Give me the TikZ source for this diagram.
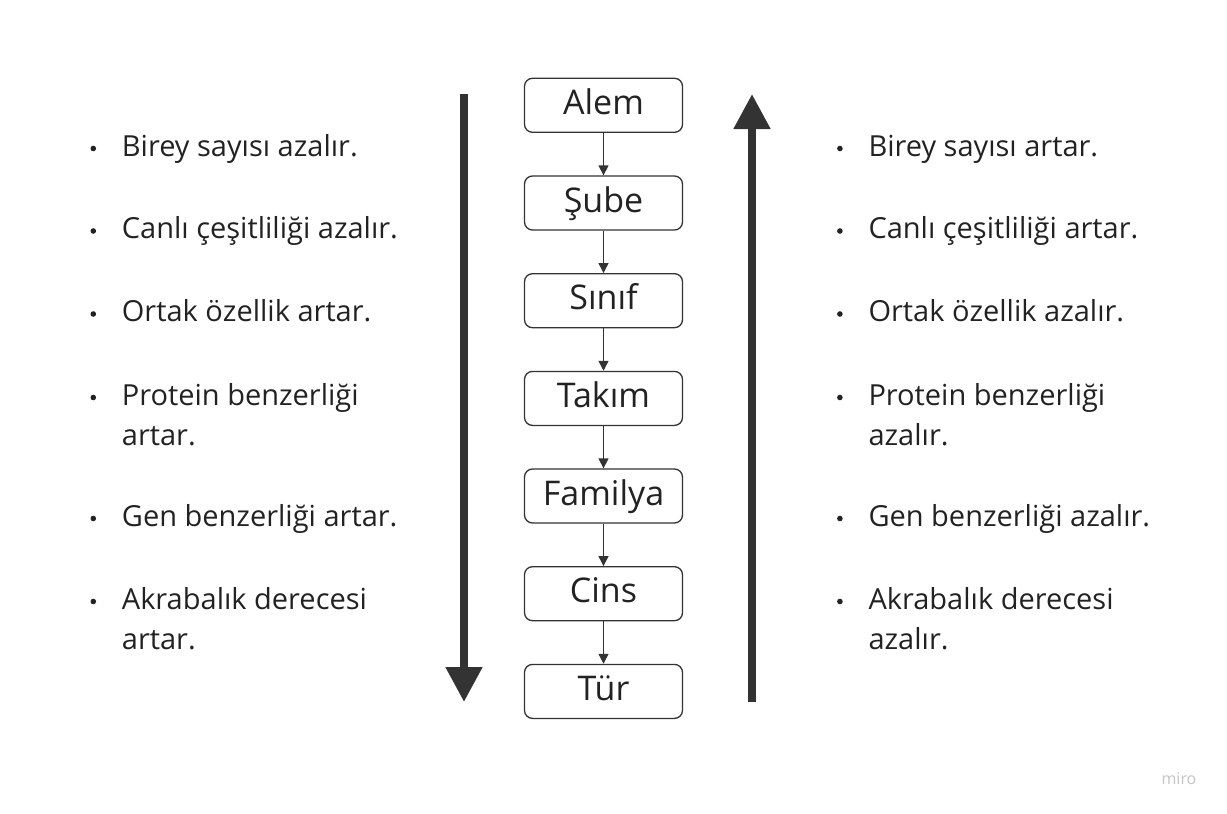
\documentclass[tikz,border=0pt]{standalone}
\usepackage{fontspec}
\setmainfont{Open Sans}
\usetikzlibrary{arrows.meta}
\definecolor{inkgrey}{HTML}{333333}
\definecolor{textgrey}{HTML}{222222}
\definecolor{markgrey}{HTML}{C4C4C4}
\tikzset{
  rank/.style={draw=inkgrey, rounded corners=8pt, line width=1.3pt, minimum width=158pt, minimum height=54pt, inner sep=0pt, text=textgrey, font=\fontsize{34}{40}\selectfont, text height=24pt, text depth=6pt},
  link/.style={draw=inkgrey, line width=1.3pt, -{Triangle[width=10pt,length=10pt]}},
  bigarrow/.style={draw=inkgrey, line width=8pt, -{Triangle[width=35pt,length=35pt]}},
  item/.style={anchor=base west, align=left, inner sep=0pt, text=textgrey, font=\fontsize{29}{40}\selectfont}}

\begin{document}
\begin{tikzpicture}[x=1pt,y=-1pt]
\useasboundingbox (0,0) rectangle (1227,814);
% ranks
\node [rank] (alem) at (603.5,105.3) {Alem};
\node [rank] (sube) at (603.5,203) {Şube};
\node [rank] (sinif) at (603.5,300.7) {Sınıf};
\node [rank] (takim) at (603.5,398.4) {Takım};
\node [rank] (familya) at (603.5,496) {Familya};
\node [rank] (cins) at (603.5,593.7) {Cins};
\node [rank] (tur) at (603.5,691.4) {Tür};
\draw [link] (alem) -- (sube);
\draw [link] (sube) -- (sinif);
\draw [link] (sinif) -- (takim);
\draw [link] (takim) -- (familya);
\draw [link] (familya) -- (cins);
\draw [link] (cins) -- (tur);
% big arrows
\coordinate (downtop) at (464,94);
\coordinate (downtip) at (464,702);
\coordinate (upbottom) at (752,702);
\coordinate (uptip) at (752,94);
\draw [bigarrow] (downtop) -- (downtip);
\draw [bigarrow] (upbottom) -- (uptip);
% left list (two-line items sit on their last line)
\node [item] (lbirey) at (121.7,156) {Birey sayısı azalır.};
\node [item] (lcanli) at (121.7,238.5) {Canlı çeşitliliği azalır.};
\node [item] (lortak) at (121.7,321.5) {Ortak özellik artar.};
\node [item] (lprotein) at (121.7,445) {Protein benzerliği\\artar.};
\node [item] (lgen) at (121.7,526) {Gen benzerliği artar.};
\node [item] (lakraba) at (121.7,649) {Akrabalık derecesi\\artar.};
% right list
\node [item] (rbirey) at (868.3,156) {Birey sayısı artar.};
\node [item] (rcanli) at (868.3,238.5) {Canlı çeşitliliği artar.};
\node [item] (rortak) at (868.3,321.5) {Ortak özellik azalır.};
\node [item] (rprotein) at (868.3,445) {Protein benzerliği\\azalır.};
\node [item] (rgen) at (868.3,526) {Gen benzerliği azalır.};
\node [item] (rakraba) at (868.3,649) {Akrabalık derecesi\\azalır.};
% bullets
\foreach \n in {lbirey,lcanli,lortak,lgen,rbirey,rcanli,rortak,rgen}
  \fill [textgrey] (\n.base west) ++(-28.4,-7.5) circle (2.8);
\foreach \n in {lprotein,lakraba,rprotein,rakraba}
  \fill [textgrey] (\n.base west) ++(-28.4,-47.5) circle (2.8);
\node [text=markgrey, font=\fontsize{16}{16}\selectfont] (miro) at (1179,779) {miro};
\end{tikzpicture}
\end{document}
